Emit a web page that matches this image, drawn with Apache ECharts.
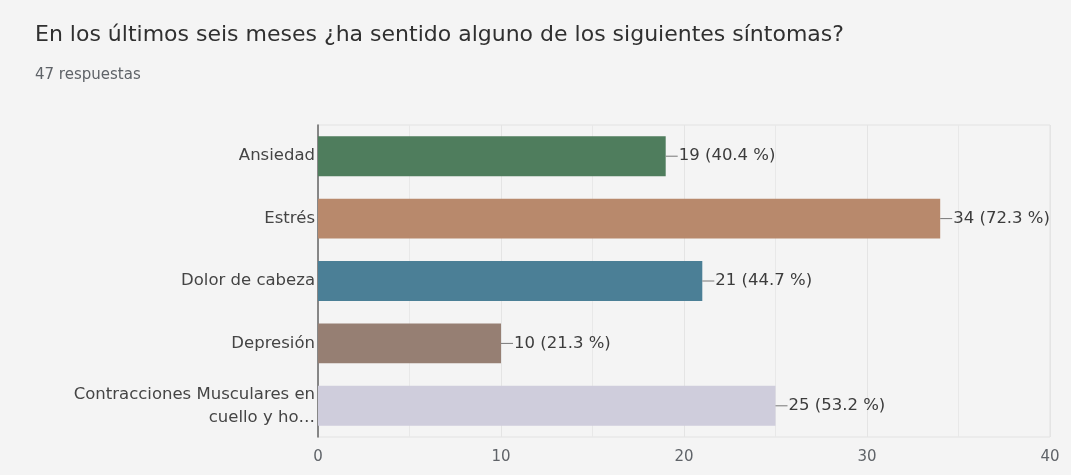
<!DOCTYPE html>
<html><head><meta charset="utf-8">
<script src="https://cdn.jsdelivr.net/npm/echarts@6/dist/echarts.min.js"></script>
<style>html,body{margin:0;padding:0;background:#f4f4f4;}#c{width:1071px;height:475px;}</style>
</head><body><div id="c"></div>
<script>
const categories = ['Ansiedad', 'Estrés', 'Dolor de cabeza', 'Depresión', 'Contracciones Musculares en\ncuello y ho…'];
const counts = [19, 34, 21, 10, 25];
const percents = ['40.4', '72.3', '44.7', '21.3', '53.2'];
const colors = ['#4f7d5d', '#b8896c', '#4b7f96', '#967f73', '#cfcddc'];
const xTicks = [0, 10, 20, 30, 40];

const FONT = 'DejaVu Sans';
const chart = echarts.init(document.getElementById('c'));
chart.setOption({
  backgroundColor: '#f4f4f4',
  animation: false,
  title: [
    {text: 'En los últimos seis meses ¿ha sentido alguno de los siguientes síntomas?', left: 30, top: 19,
     textStyle: {fontFamily: FONT, fontWeight: 'normal', fontSize: 22, color: '#303030'}},
    {text: '47 respuestas', left: 30, top: 63,
     textStyle: {fontFamily: FONT, fontWeight: 'normal', fontSize: 15, color: '#5f6368'}}
  ],
  grid: {left: 318, right: 21, top: 125, bottom: 38, show: true, borderColor: '#e2e2e2', borderWidth: 1, backgroundColor: 'transparent'},
  xAxis: {
    type: 'value', min: xTicks[0], max: xTicks[xTicks.length - 1], interval: 10,
    axisLine: {show: false}, axisTick: {show: false},
    axisLabel: {fontFamily: FONT, fontSize: 15, color: '#5f6368', margin: 13},
    splitLine: {show: true, lineStyle: {color: '#e4e4e4', type: 'solid'}},
    minorTick: {show: false, splitNumber: 2},
    minorSplitLine: {show: true, lineStyle: {color: '#e8e8e8'}}
  },
  yAxis: {
    type: 'category', data: categories, inverse: true,
    axisLine: {show: true, lineStyle: {color: '#666', width: 1.5}},
    axisTick: {show: false},
    axisLabel: {fontFamily: FONT, fontSize: 16.5, color: '#444', margin: 3, lineHeight: 23, align: 'right'}
  },
  series: [{
    type: 'bar',
    barWidth: '64%',
    data: counts.map((v, i) => ({value: v, itemStyle: {color: colors[i]}})),
    label: {
      show: true, position: 'right', distance: 0,
      formatter: p => '{ln| }{t|' + counts[p.dataIndex] + ' (' + percents[p.dataIndex] + ' %)}',
      rich: {
        ln: {width: 12, height: 1, backgroundColor: '#777', fontSize: 1},
        t: {fontFamily: FONT, fontSize: 16.5, color: '#3c3c3c', padding: [0, 0, 0, 1]}
      }
    }
  }]
});
</script></body></html>
